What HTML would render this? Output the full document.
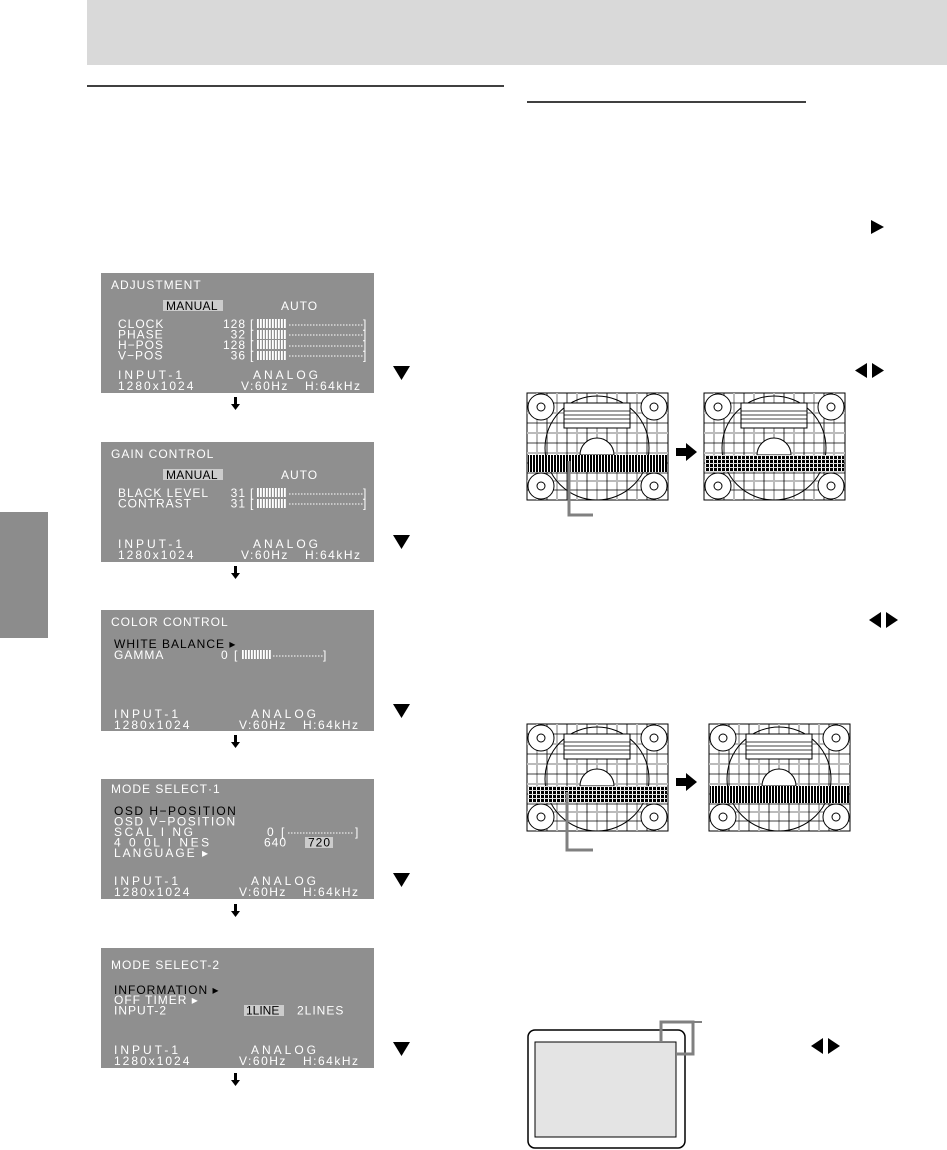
<!DOCTYPE html>
<html><head><meta charset="utf-8"><style>html,body{margin:0;padding:0;background:#fff}svg{display:block}</style></head><body>
<svg width="947" height="1150" viewBox="0 0 947 1150" xmlns="http://www.w3.org/2000/svg" font-family="Liberation Sans, sans-serif">
<defs>
<pattern id="bars" width="3" height="10" patternUnits="userSpaceOnUse"><rect width="3" height="10" fill="#8f8f8f"/><rect width="1.8" height="10" fill="#fff"/></pattern>
<pattern id="vb" width="3" height="10" patternUnits="userSpaceOnUse"><rect width="3" height="10" fill="#fff"/><rect width="2" height="10" fill="#000"/></pattern>
<pattern id="mesh" width="4" height="4" patternUnits="userSpaceOnUse"><rect width="4" height="4" fill="#000"/><rect x="1" y="0" width="1" height="4" fill="#fff"/><rect x="0" y="2" width="4" height="1" fill="#ddd"/></pattern>
<g id="tp">
<rect x="0" y="0" width="141" height="107" fill="#fff" stroke="#000"/>
<g stroke="#bbb" stroke-width="2">
<line x1="10" y1="0" x2="10" y2="107"/><line x1="30" y1="0" x2="30" y2="107"/><line x1="50" y1="0" x2="50" y2="107"/><line x1="70" y1="0" x2="70" y2="107"/><line x1="90" y1="0" x2="90" y2="107"/><line x1="110" y1="0" x2="110" y2="107"/><line x1="130" y1="0" x2="130" y2="107"/>
<line x1="0" y1="20" x2="141" y2="20"/><line x1="0" y1="40" x2="141" y2="40"/><line x1="0" y1="60" x2="141" y2="60"/><line x1="0" y1="88" x2="141" y2="88"/>
</g>
<g stroke="#000" stroke-width="0.8">
<line x1="20" y1="0" x2="20" y2="107"/><line x1="40" y1="0" x2="40" y2="107"/><line x1="60" y1="0" x2="60" y2="107"/><line x1="80" y1="0" x2="80" y2="107"/><line x1="100" y1="0" x2="100" y2="107"/><line x1="120" y1="0" x2="120" y2="107"/>
<line x1="0" y1="10" x2="141" y2="10"/><line x1="0" y1="30" x2="141" y2="30"/><line x1="0" y1="50" x2="141" y2="50"/><line x1="0" y1="70" x2="141" y2="70"/><line x1="0" y1="80" x2="141" y2="80"/><line x1="0" y1="97" x2="141" y2="97"/>
</g>
<circle cx="70" cy="55" r="52" fill="none" stroke="#000"/>
<rect x="37" y="10" width="66" height="25" fill="#fff" stroke="#000"/>
<g stroke="#000" stroke-width="0.8"><line x1="37" y1="18" x2="103" y2="18"/><line x1="37" y1="22" x2="103" y2="22"/><line x1="37" y1="26" x2="103" y2="26"/><line x1="37" y1="30" x2="103" y2="30"/></g>
<path d="M53 62 A17 17 0 0 1 87 62 Z" fill="#fff" stroke="#000"/>
<g fill="#fff" stroke="#000"><circle cx="14" cy="14" r="13"/><circle cx="127" cy="14" r="13"/><circle cx="14" cy="93" r="13"/><circle cx="127" cy="93" r="13"/></g>
<g fill="none" stroke="#000"><circle cx="14" cy="14" r="4"/><circle cx="127" cy="14" r="4"/><circle cx="14" cy="93" r="4"/><circle cx="127" cy="93" r="4"/></g>
</g>
<g id="tpA"><use href="#tp"/><rect x="1" y="62" width="139" height="17" fill="url(#vb)"/></g>
<g id="tpB"><use href="#tp"/><rect x="1" y="62" width="139" height="17" fill="url(#mesh)"/></g>
</defs>

<rect x="87" y="0" width="860" height="65" fill="#d9d9d9"/>
<rect x="0" y="512" width="48" height="126" fill="#8c8c8c"/>
<line x1="87" y1="86" x2="504" y2="86" stroke="#000" stroke-width="1.5"/>
<line x1="527" y1="102" x2="806" y2="102" stroke="#000" stroke-width="1.5"/>

<g font-size="12" fill="#fff" letter-spacing="1">
<g transform="translate(101,273)">
<rect width="273" height="120" fill="#8f8f8f"/>
<text x="10" y="16">ADJUSTMENT</text>
<rect x="62" y="27" width="60" height="11" fill="#ccc"/><text x="65" y="37" fill="#000" letter-spacing="0.3">MANUAL</text>
<text x="180" y="37">AUTO</text>
<text x="17" y="55">CLOCK</text><text x="17" y="65.5">PHASE</text><text x="17" y="76">H−POS</text><text x="17" y="86.5">V−POS</text>
<g text-anchor="end"><text x="145" y="55">128</text><text x="145" y="65.5">32</text><text x="145" y="76">128</text><text x="145" y="86.5">36</text></g>
<g><text x="149" y="55">[</text><text x="149" y="65.5">[</text><text x="149" y="76">[</text><text x="149" y="86.5">[</text>
<text x="262" y="55">]</text><text x="262" y="65.5">]</text><text x="262" y="76">]</text><text x="262" y="86.5">]</text>
<rect x="156" y="46" width="30" height="9" fill="url(#bars)"/><rect x="156" y="57" width="30" height="9" fill="url(#bars)"/><rect x="156" y="67" width="30" height="9" fill="url(#bars)"/><rect x="156" y="78" width="30" height="9" fill="url(#bars)"/>
<g stroke="#fff" stroke-dasharray="1.5 1.5"><line x1="188" y1="52" x2="262" y2="52"/><line x1="188" y1="62" x2="262" y2="62"/><line x1="188" y1="73" x2="262" y2="73"/><line x1="188" y1="83" x2="262" y2="83"/></g></g>
<text x="17" y="106" letter-spacing="3">INPUT-1</text><text x="17" y="117" letter-spacing="2">1280x1024</text>
<text x="152" y="106" letter-spacing="3">ANALOG</text><text x="140" y="117" letter-spacing="1.5">V:60Hz</text><text x="204" y="117" letter-spacing="1.5">H:64kHz</text>
</g>
<g transform="translate(101,442)">
<rect width="273" height="120" fill="#8f8f8f"/>
<text x="10" y="16">GAIN  CONTROL</text>
<rect x="62" y="27" width="60" height="11" fill="#ccc"/><text x="65" y="37" fill="#000" letter-spacing="0.3">MANUAL</text>
<text x="180" y="37">AUTO</text>
<text x="17" y="55">BLACK LEVEL</text><text x="17" y="65.5">CONTRAST</text>
<g text-anchor="end"><text x="145" y="55">31</text><text x="145" y="65.5">31</text></g>
<text x="149" y="55">[</text><text x="149" y="65.5">[</text><text x="262" y="55">]</text><text x="262" y="65.5">]</text>
<rect x="156" y="46" width="30" height="9" fill="url(#bars)"/><rect x="156" y="57" width="30" height="9" fill="url(#bars)"/>
<g stroke="#fff" stroke-dasharray="1.5 1.5"><line x1="188" y1="52" x2="262" y2="52"/><line x1="188" y1="62" x2="262" y2="62"/></g>
<text x="17" y="106" letter-spacing="3">INPUT-1</text><text x="17" y="117" letter-spacing="2">1280x1024</text>
<text x="152" y="106" letter-spacing="3">ANALOG</text><text x="140" y="117" letter-spacing="1.5">V:60Hz</text><text x="204" y="117" letter-spacing="1.5">H:64kHz</text>
</g>
<g transform="translate(101,610)">
<rect width="273" height="121" fill="#8f8f8f"/>
<text x="10" y="16">COLOR CONTROL</text>
<text x="13" y="38" fill="#000">WHITE BALANCE ▸</text>
<text x="13" y="49">GAMMA</text><text x="120" y="49">0</text>
<text x="133" y="49">[</text><text x="222" y="49">]</text>
<rect x="140" y="40" width="30" height="9" fill="url(#bars)"/>
<line x1="172" y1="46" x2="222" y2="46" stroke="#fff" stroke-dasharray="1.5 1.5"/>
<text x="13" y="108" letter-spacing="3">INPUT-1</text><text x="13" y="119" letter-spacing="2">1280x1024</text>
<text x="150" y="108" letter-spacing="3">ANALOG</text><text x="138" y="119" letter-spacing="1.5">V:60Hz</text><text x="202" y="119" letter-spacing="1.5">H:64kHz</text>
</g>
<g transform="translate(101,779)">
<rect width="273" height="120" fill="#8f8f8f"/>
<text x="10" y="14">MODE  SELECT·1</text>
<text x="13" y="36" fill="#000" letter-spacing="1.5">OSD  H−POSITION</text>
<text x="13" y="46.5" letter-spacing="1.5">OSD  V−POSITION</text>
<text x="13" y="57" letter-spacing="2.5">SCAL I NG</text>
<text x="13" y="67.5" letter-spacing="2.5">4 0 0L I NES</text>
<text x="13" y="78" letter-spacing="2">LANGUAGE ▸</text>
<text x="166" y="57">0</text><text x="180" y="57">[</text><text x="254" y="57">]</text>
<line x1="187" y1="54" x2="252" y2="54" stroke="#fff" stroke-dasharray="1.5 1.5"/>
<text x="163" y="67.5">640</text>
<rect x="204" y="58" width="28" height="11" fill="#ccc"/><text x="207" y="67.5" fill="#000">720</text>
<text x="13" y="106" letter-spacing="3">INPUT-1</text><text x="13" y="117" letter-spacing="2">1280x1024</text>
<text x="150" y="106" letter-spacing="3">ANALOG</text><text x="138" y="117" letter-spacing="1.5">V:60Hz</text><text x="202" y="117" letter-spacing="1.5">H:64kHz</text>
</g>
<g transform="translate(101,948)">
<rect width="273" height="120" fill="#8f8f8f"/>
<text x="10" y="21">MODE SELECT-2</text>
<text x="13" y="46" fill="#000">INFORMATION ▸</text>
<text x="13" y="56">OFF TIMER ▸</text>
<text x="13" y="66.5">INPUT-2</text>
<rect x="143" y="57" width="40" height="11" fill="#ccc"/><text x="145" y="66.5" fill="#000" letter-spacing="0">1LINE</text>
<text x="196" y="66.5">2LINES</text>
<text x="13" y="106" letter-spacing="3">INPUT-1</text><text x="13" y="117" letter-spacing="2">1280x1024</text>
<text x="150" y="106" letter-spacing="3">ANALOG</text><text x="138" y="117" letter-spacing="1.5">V:60Hz</text><text x="202" y="117" letter-spacing="1.5">H:64kHz</text>
</g>
</g>

<g fill="#000">
<path d="M234 397h3v7h3l-4.5 6-4.5-6h3z"/>
<path d="M234 566h3v7h3l-4.5 6-4.5-6h3z"/>
<path d="M234 735h3v7h3l-4.5 6-4.5-6h3z"/>
<path d="M234 904h3v7h3l-4.5 6-4.5-6h3z"/>
<path d="M234 1073h3v7h3l-4.5 6-4.5-6h3z"/>
<path d="M393 366h17l-8.5 14z"/>
<path d="M393 535h17l-8.5 14z"/>
<path d="M393 704h17l-8.5 14z"/>
<path d="M393 873h17l-8.5 14z"/>
<path d="M393 1042h17l-8.5 14z"/>
<path d="M871 220l13 7-13 7z"/>
<path d="M867 363l-12 7.5 12 7.5z"/><path d="M872 363l12 7.5-12 7.5z"/>
<path d="M881 612l-12 8 12 8z"/><path d="M886 612l12 8-12 8z"/>
<path d="M823 1038l-12 8 12 8z"/><path d="M828 1038l12 8-12 8z"/>
<path d="M676 448h10v-5l11 9-11 9v-5h-10z"/>
<path d="M676 778h10v-5l11 9-11 9v-5h-10z"/>
</g>

<use href="#tpA" x="527" y="393"/>
<use href="#tpB" x="704" y="393"/>
<use href="#tpB" x="527" y="724"/>
<use href="#tpA" x="709" y="724"/>
<path d="M569 461V515H593" fill="none" stroke="#808080" stroke-width="3"/>
<path d="M567 792V850H593" fill="none" stroke="#808080" stroke-width="3"/>

<rect x="528" y="1030" width="157" height="118" rx="7" fill="#fff" stroke="#000" stroke-width="1.5"/>
<rect x="535" y="1042" width="141" height="95" fill="#e4e4e4" stroke="#000"/>
<path d="M661 1041V1022H693V1054H677" fill="none" stroke="#808080" stroke-width="3"/>
<line x1="693" y1="1022" x2="702" y2="1022" stroke="#808080" stroke-width="2"/>
</svg>
</body></html>
